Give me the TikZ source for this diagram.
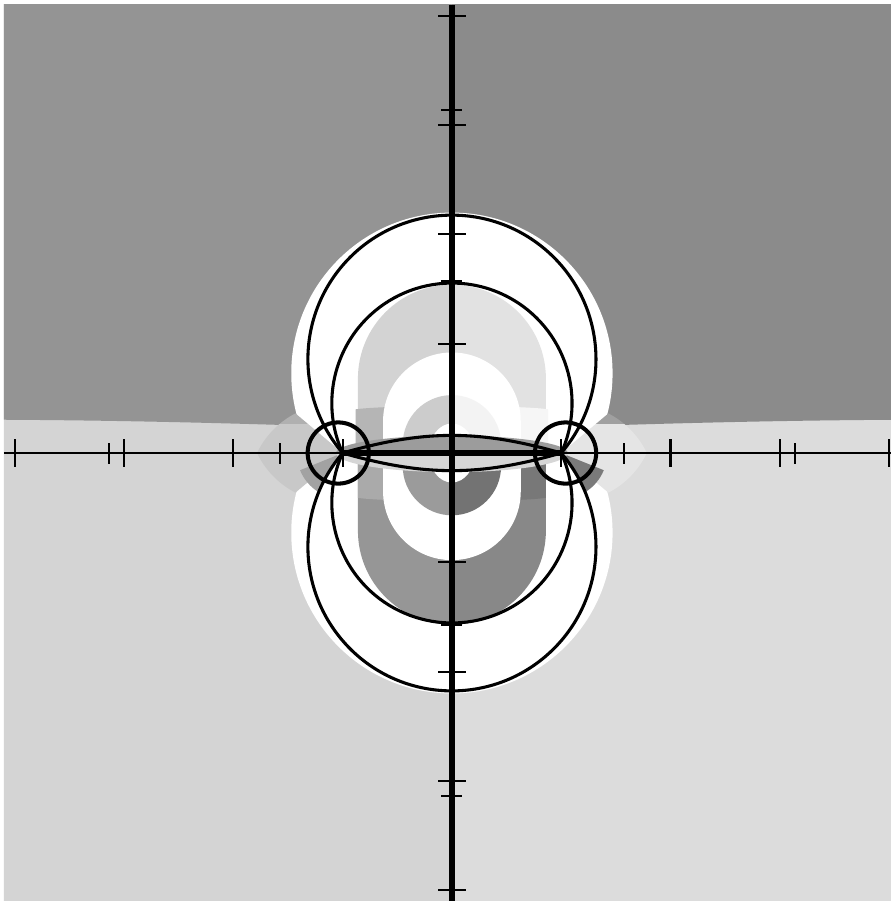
\documentclass[tikz,border=0pt]{standalone}
\usepackage{xcolor}
\usepackage{tikz}
\definecolor{arribaizq}{HTML}{949494}
\definecolor{arribader}{HTML}{8B8B8B}
\definecolor{abajoizq}{HTML}{D4D4D4}
\definecolor{abajoder}{HTML}{DCDCDC}
\definecolor{bandasupizq}{HTML}{D3D3D3}
\definecolor{bandasupder}{HTML}{E2E2E2}
\definecolor{bajasupizq}{HTML}{B5B5B5}
\definecolor{bajasupder}{HTML}{F6F6F6}
\definecolor{discosupizq}{HTML}{CCCCCC}
\definecolor{discosupder}{HTML}{F3F3F3}
\definecolor{bandainfizq}{HTML}{969696}
\definecolor{bandainfder}{HTML}{888888}
\definecolor{altainfizq}{HTML}{AAAAAA}
\definecolor{altainfder}{HTML}{787878}
\definecolor{discoinfizq}{HTML}{9B9B9B}
\definecolor{discoinfder}{HTML}{737373}
\definecolor{abanicosupizq}{HTML}{B0B0B0}
\definecolor{abanicoinfizq}{HTML}{C8C8C8}
\definecolor{abanicosupder}{HTML}{A0A0A0}
\definecolor{abanicoinfder}{HTML}{E5E5E5}
\definecolor{cunaizq}{HTML}{A2A2A2}
\definecolor{cunader}{HTML}{7A7A7A}
\definecolor{lentesup}{HTML}{9C9C9C}
\definecolor{lenteinf}{HTML}{D6D6D6}
\newcommand{\capas}{%
  \fill[zonainf] (-4.2,-4.2) rectangle (0.01,4.2);
  \fill[zonasup] (-4.2,4.2) -- (-4.2,0.305) .. controls (-3,0.30) and (-2,0.27) .. (-1.5,0.255) -- (0.01,0.25) -- (0.01,4.2) -- cycle;
  \fill[white] (0,0.73) circle (1.47);
  \fill[white] (0,-0.73) circle (1.47);
  \begin{scope}
    \clip (-1,0) -- (-2.2,1.007) -- (-2.2,-1.007) -- cycle;
    \clip (-1.07,0.34) circle (0.79);
    \clip (-1.07,-0.34) circle (0.79);
    \fill[abanicoinf] (-2.2,-1) rectangle (-1,0.27);
    \fill[abanicosup] (-2.2,0.27) rectangle (-1,1);
  \end{scope}
  \fill[cuna] (-1,0) -- ++(202:0.42) arc[start angle=202, end angle=238, radius=0.42] -- cycle;
  \fill[bandasup] (-0.86,0) -- (-0.86,0.68) arc[start angle=180, end angle=0, radius=0.86] -- (0.86,0) -- cycle;
  \fill[bajasup] (-0.88,0) -- (-0.88,0.4) .. controls (-0.6,0.44) and (0.6,0.44) .. (0.86,0.4) -- (0.86,0) -- cycle;
  \fill[white] (-0.63,0) -- (-0.63,0.29) arc[start angle=180, end angle=0, radius=0.63] -- (0.63,0) -- cycle;
  \fill[discosup] (-0.45,0) -- (-0.45,0.08) arc[start angle=180, end angle=0, radius=0.45] -- (0.45,0) -- cycle;
  \fill[bandainf] (-0.86,0) -- (-0.86,-0.71) arc[start angle=180, end angle=360, radius=0.86] -- (0.86,0) -- cycle;
  \fill[altainf] (-0.86,0) -- (-0.86,-0.41) .. controls (-0.6,-0.45) and (0.6,-0.45) .. (0.86,-0.41) -- (0.86,0) -- cycle;
  \fill[white] (-0.63,0) -- (-0.63,-0.35) arc[start angle=180, end angle=360, radius=0.63] -- (0.63,0) -- cycle;
  \fill[discoinf] (-0.45,0) -- (-0.45,-0.12) arc[start angle=180, end angle=360, radius=0.45] -- (0.45,0) -- cycle;
}
\begin{document}
\begin{tikzpicture}[
  curva/.style={line width=0.8pt},
  circulo/.style={line width=1.05pt},
  eje/.style={line width=0.45pt},
  ejegrueso/.style={line width=1.6pt},
  marca/.style={line width=0.55pt}
]
  \clip (-4.135,-4.099) rectangle (4.016,4.145);
  \coordinate (o) at (0,0);
  \coordinate (fi) at (-1,0);
  \coordinate (fd) at (1,0);
  \fill[white] (-4.135,-4.099) rectangle (4.016,4.145);
  \begin{scope}[zonasup/.style={fill=arribaizq}, zonainf/.style={fill=abajoizq},
      abanicosup/.style={fill=abanicosupizq}, abanicoinf/.style={fill=abanicoinfizq}, cuna/.style={fill=cunaizq},
      bandasup/.style={fill=bandasupizq}, bajasup/.style={fill=bajasupizq}, discosup/.style={fill=discosupizq},
      bandainf/.style={fill=bandainfizq}, altainf/.style={fill=altainfizq}, discoinf/.style={fill=discoinfizq}]
    \clip (-4.1,-4.1) rectangle (0,4.1);
    \capas
  \end{scope}
  \begin{scope}[xscale=-1, zonasup/.style={fill=arribader}, zonainf/.style={fill=abajoder},
      abanicosup/.style={fill=abanicosupder}, abanicoinf/.style={fill=abanicoinfder}, cuna/.style={fill=cunader},
      bandasup/.style={fill=bandasupder}, bajasup/.style={fill=bajasupder}, discosup/.style={fill=discosupder},
      bandainf/.style={fill=bandainfder}, altainf/.style={fill=altainfder}, discoinf/.style={fill=discoinfder}]
    \clip (-4.1,-4.1) rectangle (0,4.1);
    \capas
  \end{scope}
  \fill[white] (o) ellipse (0.21 and 0.27);
  \fill[lentesup] (-1.06,0) arc[start angle=180, end angle=0, x radius=1.06, y radius=0.16] -- cycle;
  \fill[lenteinf] (-1.06,0) arc[start angle=180, end angle=360, x radius=1.06, y radius=0.175] -- cycle;
  \draw[eje] (-4.1,0) -- (4.1,0);
  \foreach \t in {-4,-3,-2,-1,1,2,3,4} {
    \draw[marca] (\t,-0.127) -- (\t,0.127);
    \draw[marca] (-0.127,\t) -- (0.127,\t);
  }
  \foreach \t in {-pi,-pi/2,pi/2,pi} {
    \draw[marca] ({\t},-0.096) -- ({\t},0.096);
    \draw[marca] (-0.096,{\t}) -- (0.096,{\t});
  }
  \draw[curva] (fd) arc[start angle=-40.66, end angle=220.66, radius=1.318];
  \draw[curva] (fd) arc[start angle=40.66, end angle=-220.66, radius=1.318];
  \draw[curva] (fd) arc[start angle=-24.51, end angle=204.51, radius=1.099];
  \draw[curva] (fd) arc[start angle=24.51, end angle=-204.51, radius=1.099];
  \draw[curva] (fi) to[bend left=16] (fd) to[bend left=16] (fi);
  \draw[circulo] (-1.04,0) circle (0.28);
  \draw[circulo] (1.04,0) circle (0.28);
  \draw[ejegrueso] (fi) -- (fd);
  \draw[ejegrueso] (0,-4.1) -- (0,4.1);
\end{tikzpicture}
\end{document}
